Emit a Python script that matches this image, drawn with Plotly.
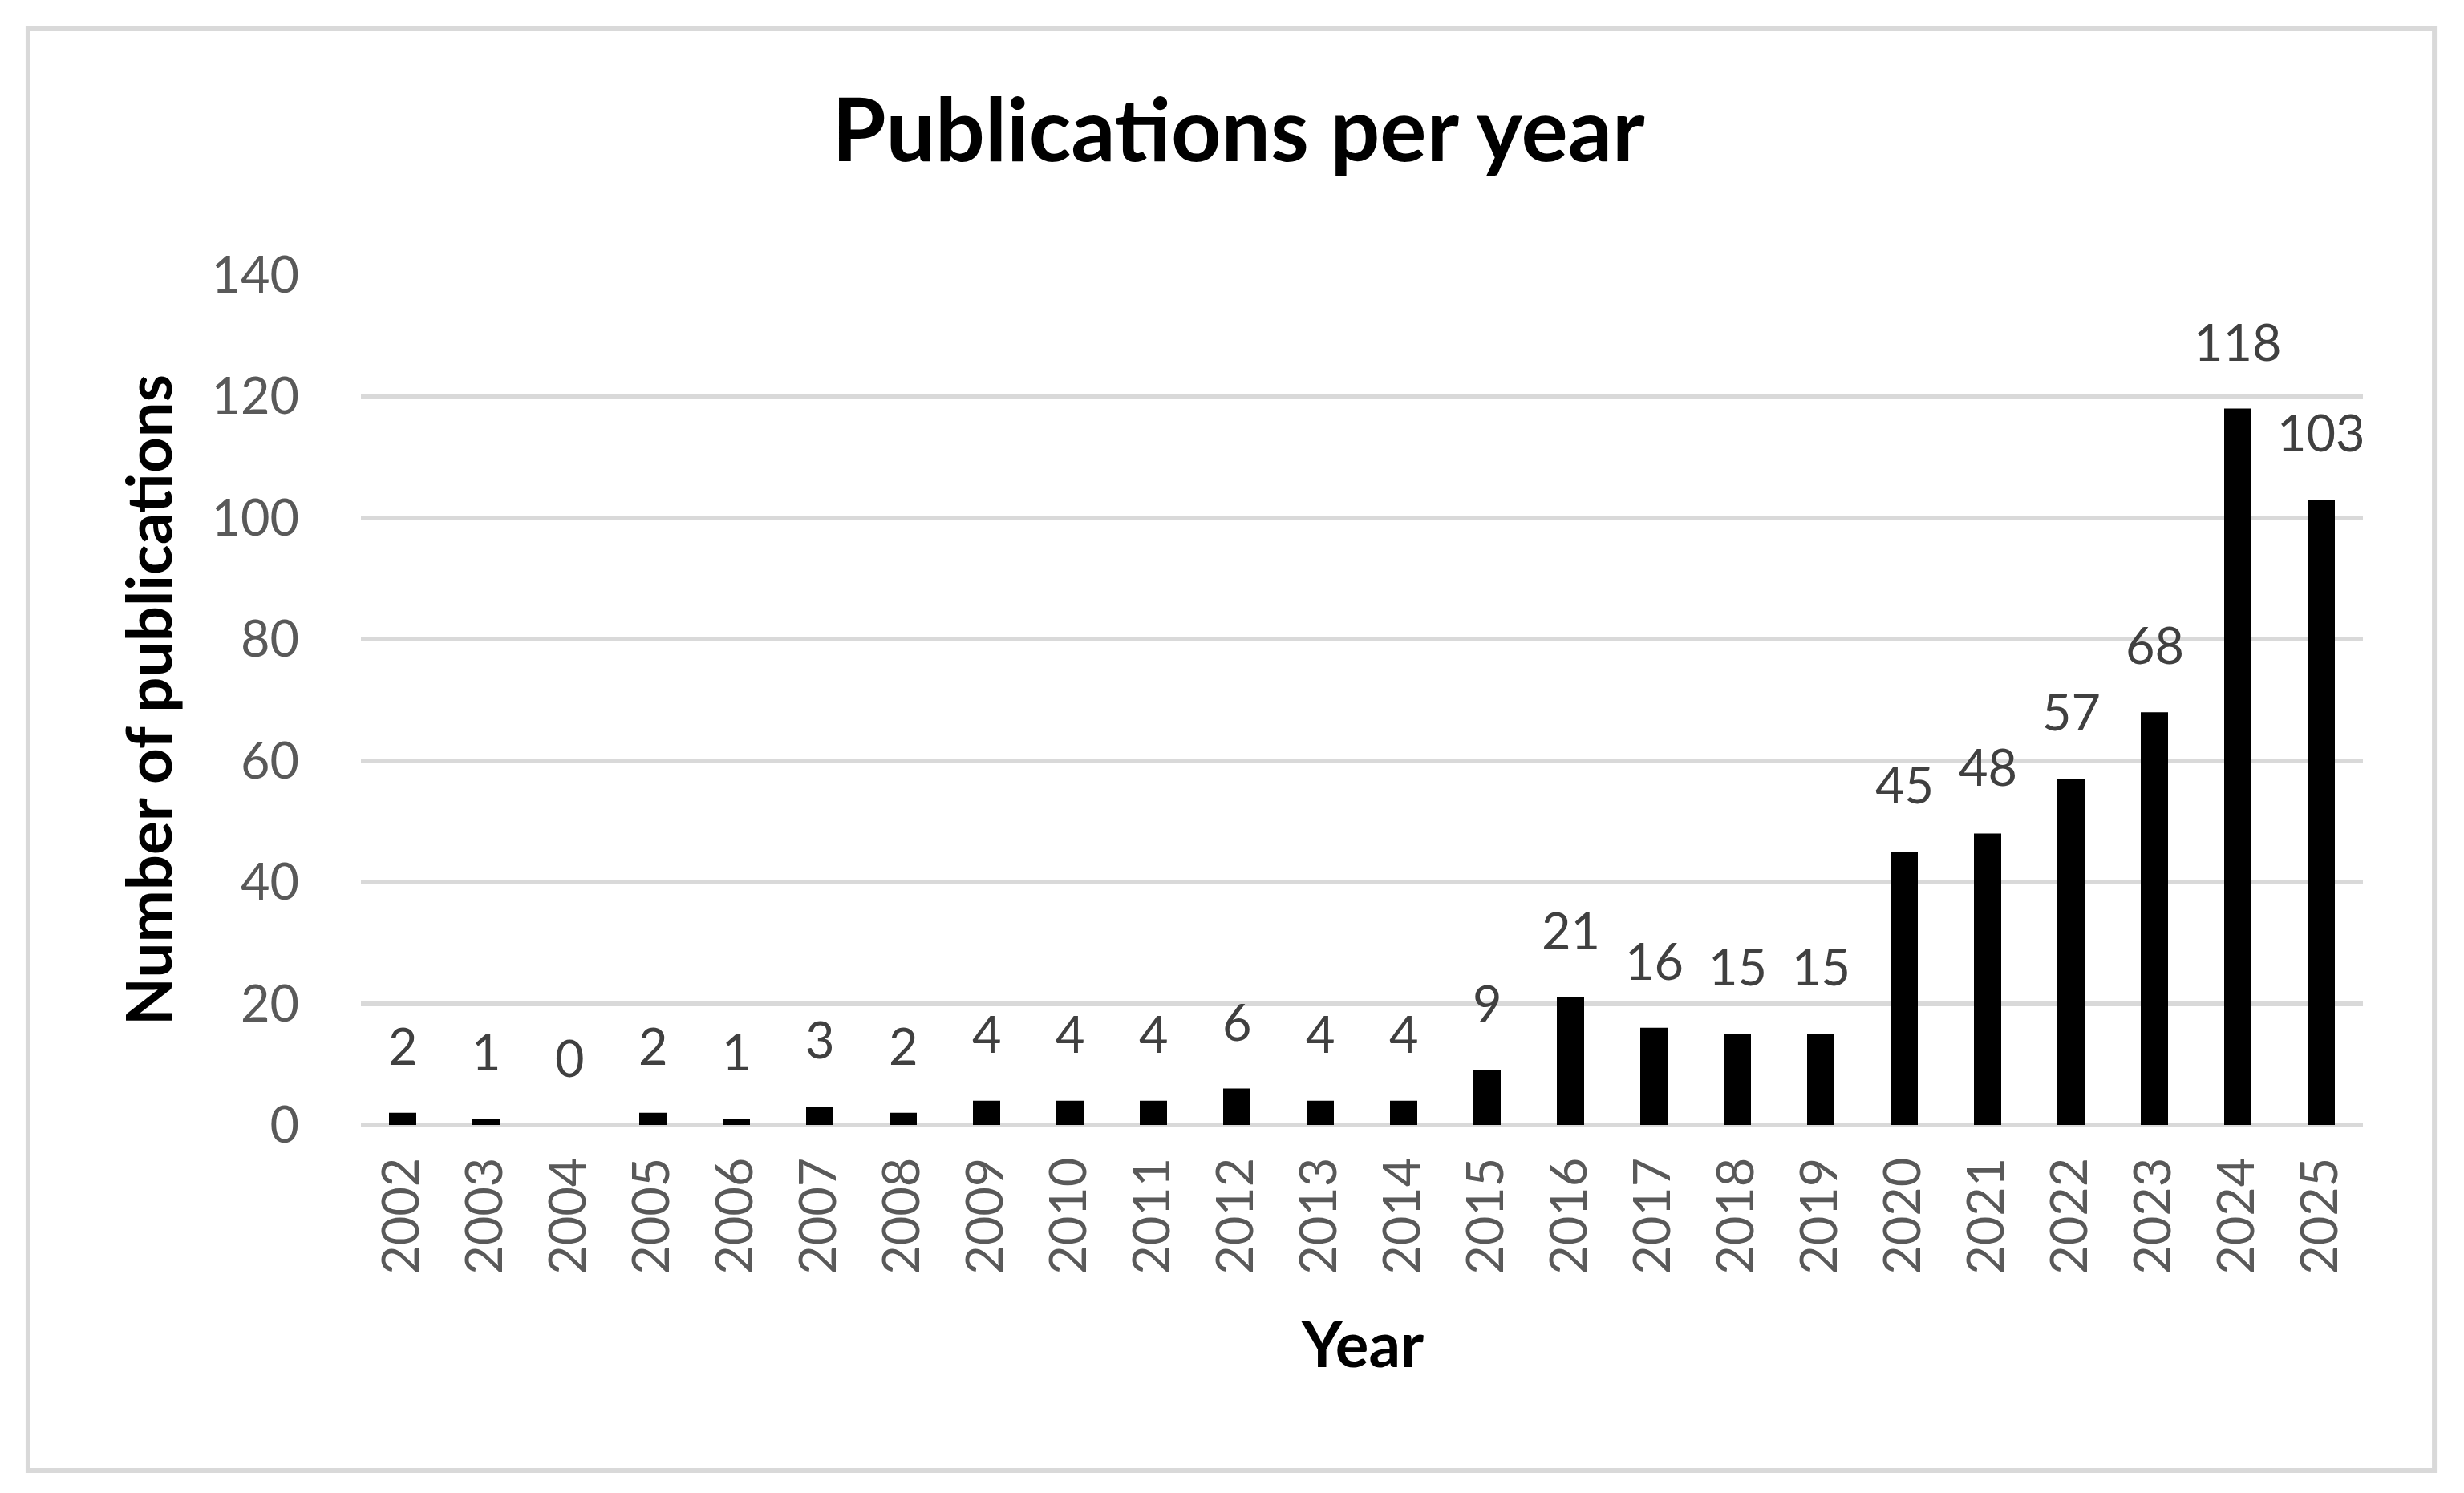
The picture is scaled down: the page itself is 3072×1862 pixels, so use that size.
"""Publications per year - bar chart rebuilt in plotly."""
import plotly.graph_objects as go

years = [str(y) for y in range(2002, 2026)]
publications = [2, 1, 0, 2, 1, 3, 2, 4, 4, 4, 6, 4, 4, 9,
                21, 16, 15, 15, 45, 48, 57, 68, 118, 103]
y_ticks = [0, 20, 40, 60, 80, 100, 120, 140]

FONT = "Lato"
GRID = "#D9D9D9"

fig = go.Figure()
fig.add_trace(go.Bar(x=years, y=publications, marker_color="black",
                     marker_line_width=0, showlegend=False))

# data labels above the bars (x given as category index)
for i, n in enumerate(publications):
    fig.add_annotation(x=i, y=n, text=str(n), showarrow=False,
                       yanchor="bottom", yshift=45,
                       font=dict(family=FONT, size=63, color="#404040"))

# axis titles
fig.add_annotation(x=0.5, y=-0.2104, xref="paper", yref="paper",
                   text="<b>Year</b>", showarrow=False, yanchor="top",
                   font=dict(family=FONT, size=78, color="black"))
fig.add_annotation(x=-0.1066, y=0.5, xref="paper", yref="paper",
                   text="<b>Number of publications</b>", showarrow=False,
                   textangle=-90, xanchor="center",
                   font=dict(family=FONT, size=78, color="black"))

# chart border
fig.add_shape(type="rect", xref="paper", yref="paper",
              x0=-0.1663, x1=1.0357, y0=-0.4066, y1=1.2896,
              line=dict(color=GRID, width=6), fillcolor="rgba(0,0,0,0)")

fig.update_layout(
    width=3072, height=1862,
    margin=dict(l=442, r=134, t=335, b=467),
    paper_bgcolor="white", plot_bgcolor="white",
    bargap=0.673,
    title=dict(text="<b>Publications per year</b>", x=0.5, xref="container",
               xanchor="center", y=0.9166, yanchor="middle",
               font=dict(family=FONT, size=109, color="black")),
)
fig.update_xaxes(type="category", range=[-0.5, len(years) - 0.5],
                 tickangle=-90, showgrid=False, showline=False, ticks="",
                 ticklabelstandoff=27,
                 tickfont=dict(family=FONT, size=63, color="#595959"))
fig.update_yaxes(range=[0, 140], tickvals=y_ticks, showgrid=True,
                 gridcolor=GRID, gridwidth=6, zeroline=True,
                 zerolinecolor=GRID, zerolinewidth=6, ticks="",
                 ticklabelstandoff=76,
                 tickfont=dict(family=FONT, size=63, color="#595959"))

fig.write_html("out.html")
